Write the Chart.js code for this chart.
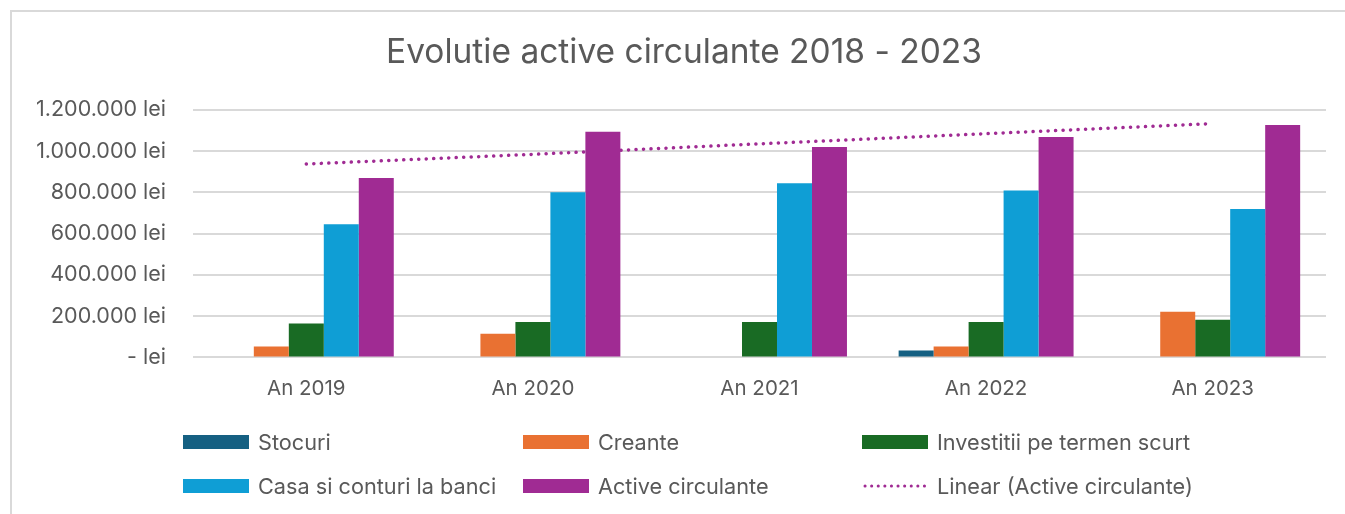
<!DOCTYPE html>
<html>
<head>
  <meta charset="utf-8">
  <script src="https://cdn.jsdelivr.net/npm/chart.js@4.4.0/dist/chart.umd.min.js"></script>
  <style>
    body { margin: 0; background: white; }
    #wrap { width: 1345px; height: 514px; }
  </style>
</head>
<body>
<div id="wrap">
  <canvas id="myChart" width="1345" height="514"></canvas>
</div>
<script>
  // categorii si valori (lei)
  var ani = ['An 2019', 'An 2020', 'An 2021', 'An 2022', 'An 2023'];
  var stocuri = [0, 0, 0, 34000, 0];
  var creante = [53000, 115000, 0, 53000, 222000];
  var investitii = [164000, 172000, 172000, 172000, 183000];
  var casa = [646000, 801000, 845000, 809000, 720000];
  var active = [870000, 1095000, 1020000, 1069000, 1127000];
  // linia de trend
  var trendActive = [938000, 985000, 1036000, 1085000, 1134000];
  var yTicks = [0, 200000, 400000, 600000, 800000, 1000000, 1200000];
  var titlu = 'Evolutie active circulante 2018 - 2023';

  var gray = '#595959';
  var font = 'Inter';

  function lei(v) {
    if (v === 0) return '- lei';
    return String(v).replace(/\B(?=(\d{3})+(?!\d))/g, '.') + ' lei';
  }

  // chenar, titlu + legenda in 3 coloane, ca in Excel
  var frameLegend = {
    id: 'frameLegend',
    beforeDraw: function (chart) {
      var c = chart.ctx;
      c.save();
      c.strokeStyle = '#d9d9d9';
      c.lineWidth = 2;
      c.beginPath();
      c.moveTo(11, 514);
      c.lineTo(11, 11);
      c.lineTo(1345, 11);
      c.stroke();
      c.restore();
    },
    afterDraw: function (chart) {
      var c = chart.ctx;
      var cols = [183, 523, 862];
      var rows = [442, 486];
      var items = chart.data.datasets;
      c.save();
      c.fillStyle = gray;
      c.font = '33.5px ' + font;
      c.textAlign = 'center';
      c.textBaseline = 'middle';
      c.fillText(titlu, 684, 53);

      c.textAlign = 'left';
      c.font = '21.7px ' + font;
      items.forEach(function (ds, i) {
        var x = cols[i % 3];
        var y = rows[Math.floor(i / 3)];
        if (ds.type === 'line') {
          c.save();
          c.strokeStyle = ds.borderColor;
          c.lineWidth = 3;
          c.lineCap = 'round';
          c.setLineDash([0.1, 6.5]);
          c.beginPath();
          c.moveTo(x + 3, y);
          c.lineTo(x + 64, y);
          c.stroke();
          c.restore();
        } else {
          c.fillStyle = ds.backgroundColor;
          c.fillRect(x, y - 7, 66, 14);
        }
        c.fillStyle = gray;
        c.fillText(ds.label, x + 75, y + 1);
      });
      c.restore();
    }
  };

  var ctx = document.getElementById('myChart').getContext('2d');
  var chart = new Chart(ctx, {
    type: 'bar',
    data: {
      labels: ani,
      datasets: [
        { label: 'Stocuri', data: stocuri, backgroundColor: '#156082', order: 0 },
        { label: 'Creante', data: creante, backgroundColor: '#e97132', order: 0 },
        { label: 'Investitii pe termen scurt', data: investitii, backgroundColor: '#196b24', order: 0 },
        { label: 'Casa si conturi la banci', data: casa, backgroundColor: '#0f9ed5', order: 0 },
        { label: 'Active circulante', data: active, backgroundColor: '#a02b93', order: 0 },
        {
          type: 'line',
          label: 'Linear (Active circulante)',
          data: trendActive,
          borderColor: '#a02b93',
          borderWidth: 3.5,
          borderDash: [0.1, 7.4],
          borderCapStyle: 'round',
          pointRadius: 0,
          fill: false,
          order: 1
        }
      ]
    },
    options: {
      responsive: false,
      animation: false,
      layout: { padding: { left: 12, right: 19, top: 110, bottom: 94 } },
      datasets: {
        bar: { categoryPercentage: 0.772, barPercentage: 1.0 }
      },
      plugins: {
        legend: { display: false },
        tooltip: { enabled: false },
        title: { display: false }
      },
      scales: {
        x: {
          grid: { display: false, drawTicks: false },
          border: { display: false },
          ticks: { color: gray, font: { family: font, size: 20.5 }, padding: 19 }
        },
        y: {
          min: 0,
          max: 1200000,
          afterFit: function (s) { s.width = 181; },
          afterBuildTicks: function (s) {
            s.ticks = yTicks.map(function (v) { return { value: v }; });
          },
          grid: { color: '#d9d9d9', lineWidth: 2, drawTicks: false },
          border: { display: false },
          ticks: {
            color: gray,
            font: { family: font, size: 21.5 },
            padding: 27,
            callback: function (v) { return lei(v); }
          }
        }
      }
    },
    plugins: [frameLegend]
  });
</script>
</body>
</html>
